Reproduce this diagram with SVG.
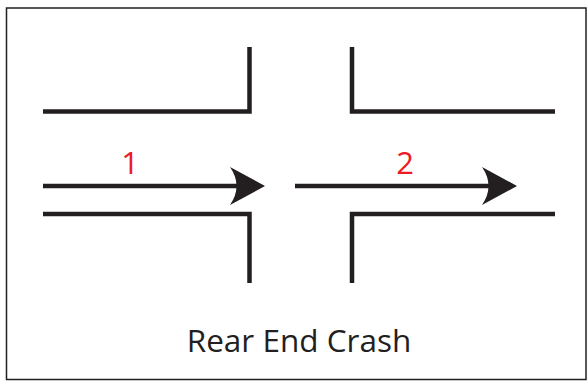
<svg xmlns="http://www.w3.org/2000/svg" width="587" height="381" viewBox="0 0 587 381">
<style>
.road{fill:none;stroke:#231F20;stroke-width:4.5;stroke-linecap:butt;stroke-linejoin:miter}
.lbl{font-family:"Open Sans","Liberation Sans",sans-serif;fill:#ED1C24;font-size:31px;text-anchor:middle}
.cap{font-family:"Open Sans","Liberation Sans",sans-serif;fill:#231F20;font-size:31.5px;text-anchor:middle}
.ah{fill:#231F20}
</style>
<rect x="0" y="0" width="587" height="381" fill="#ffffff"/>
<rect x="6.5" y="8" width="579.5" height="371.5" fill="none" stroke="#231F20" stroke-width="1.5"/>
<g id="road">
<polyline class="road" points="43,111.5 249.5,111.5 249.5,47"/>
<polyline class="road" points="352,47 352,111.5 555,111.5"/>
<polyline class="road" points="43,214 249.5,214 249.5,283"/>
<polyline class="road" points="352,283 352,214 555,214"/>
</g>
<g id="connectors">
<g id="arrow1">
<line class="road" x1="43" y1="186" x2="240" y2="186"/>
<path class="ah" d="M265,186 L230,167 Q243,186 230,205 Z"/>
</g>
<g id="arrow2">
<line class="road" x1="295" y1="186" x2="492" y2="186"/>
<path class="ah" d="M517,186 L482,167 Q495,186 482,205 Z"/>
</g>
</g>
<g id="label1"><text class="lbl" x="130" y="174">1</text></g>
<g id="label2"><text class="lbl" x="405" y="174">2</text></g>
<g id="caption"><text class="cap" x="299" y="352">Rear End Crash</text></g>
</svg>
